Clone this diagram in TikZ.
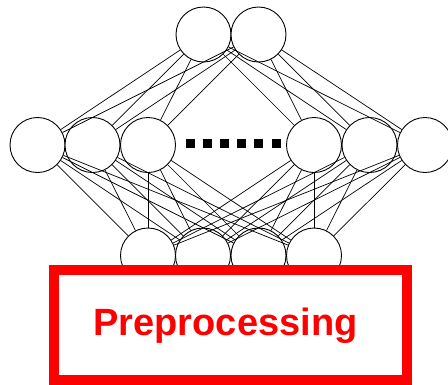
\documentclass[tikz,border=0pt]{standalone}
\usepackage{fontspec}
\newfontfamily\boxfont{Liberation Sans}
\begin{document}
\begin{tikzpicture}[x=1pt, y=-1pt,
    unit/.style={draw, circle, fill=white, minimum size=55pt, inner sep=0pt, line width=0.9pt},
    dotbox/.style={fill=black, minimum size=9pt, inner sep=0pt},
    link/.style={line width=0.7pt},
    prebox/.style={draw=red, line width=10pt, fill=white, minimum width=353pt, minimum height=110pt, inner sep=0pt},
    prelabel/.style={text=red, font=\boxfont\bfseries\fontsize{38}{40}\selectfont, inner sep=0pt}
]
\useasboundingbox (0,0) rectangle (448,384);
% top layer
\node[unit] (t1) at (203.5,34.5) {};
\node[unit] (t2) at (258.5,34.5) {};
% middle layer
\node[unit] (m1) at (37.5,145) {};
\node[unit] (m2) at (92.5,145) {};
\node[unit] (m3) at (148,145) {};
\node[unit] (m4) at (314,145) {};
\node[unit] (m5) at (369.5,145) {};
\node[unit] (m6) at (425,145) {};
\foreach \i/\x in {1/190,2/207,3/224.5,4/241.5,5/258.5,6/276}
    \node[dotbox] (d\i) at (\x,143) {};
% bottom layer
\node[unit] (b1) at (148,255.5) {};
\node[unit] (b2) at (203,255.5) {};
\node[unit] (b3) at (258.5,255.5) {};
\node[unit] (b4) at (314,255.5) {};

\foreach \t in {t1,t2}
    \foreach \m in {m1,m2,m3,m4,m5,m6}
        \draw[link] (\t) -- (\m);
\foreach \m in {m1,m2,m3,m4,m5,m6}
    \foreach \b in {b1,b2,b3,b4}
        \draw[link] (\m) -- (\b);

\node[prebox] (pre) at (230.75,325) {};
\node[prelabel, anchor=base] (pretext) at (225.5,335) {Preprocessing};
\end{tikzpicture}
\end{document}
